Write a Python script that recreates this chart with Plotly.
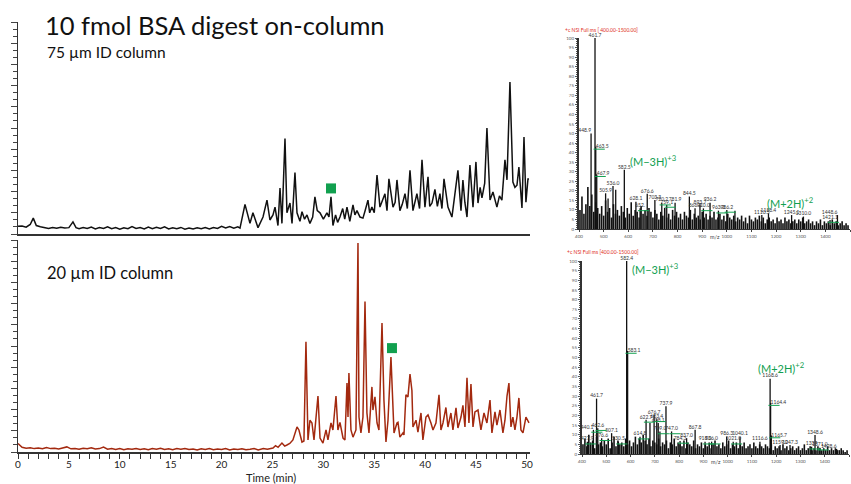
import plotly.graph_objects as go

W, H = 851, 484

# ---------------- Chromatogram data (time in min, relative intensity) ----------------
top_time = [0.0, 0.4, 0.8, 1.2, 1.5, 1.8, 2.2, 2.6, 3.0, 3.4, 3.8, 4.2, 4.6, 5.0, 5.4, 5.7,
            6.0, 6.4, 6.8, 7.2, 7.6, 8.0, 8.4, 8.8, 9.2, 9.6, 10.0, 10.4, 10.8, 11.2, 11.6, 12.0,
            12.4, 12.8, 13.2, 13.6, 14.0, 14.4, 14.8, 15.2, 15.6, 16.0, 16.4, 16.8, 17.2, 17.6,
            18.0, 18.4, 18.8, 19.2, 19.6, 20.0, 20.4, 20.8, 21.2, 21.6,
            21.81, 22.30, 22.79, 23.08, 23.58, 24.07, 24.46, 24.75, 25.05, 25.25,
            25.54, 25.74, 25.93, 26.23, 26.42, 26.72, 26.92, 27.21, 27.41, 27.70,
            27.90, 28.15, 28.39, 28.68, 28.95, 29.17, 29.40, 29.67, 30.00, 30.35,
            30.55, 30.75, 30.94, 31.20, 31.40, 31.63, 31.90, 32.10, 32.32, 32.60,
            32.91, 33.10, 33.30, 33.60, 33.89, 34.10, 34.38, 34.55, 34.77, 35.00,
            35.27, 35.56, 35.80, 36.05, 36.25, 36.44, 36.84, 37.05, 37.23, 37.52,
            37.75, 38.02, 38.25, 38.51, 38.80, 39.00, 39.19, 39.45, 39.69, 39.98,
            40.28, 40.45, 40.67, 40.96, 41.20, 41.45, 41.65, 41.85, 42.24, 42.63,
            42.93, 43.22, 43.52, 43.71, 43.90, 44.11, 44.40, 44.70, 44.99, 45.19,
            45.40, 45.58, 45.85, 46.07, 46.37, 46.66, 47.05, 47.30, 47.54, 47.84,
            48.04, 48.33, 48.62, 48.82, 49.02, 49.21, 49.51, 49.71, 49.90, 50.10,
            50.20]
top_intensity = [3.6, 3.8, 3.2, 4.5, 7.5, 4.0, 3.4, 3.0, 2.6, 3.1, 2.7, 3.2, 2.8, 3.0, 5.7, 3.0,
                 2.5, 3.1, 2.6, 3.3, 2.4, 3.0, 2.6, 3.4, 2.5, 3.0, 2.3, 2.9, 2.5, 3.5, 2.6, 3.0,
                 2.4, 3.3, 2.5, 3.2, 2.6, 3.4, 2.4, 2.9, 2.5, 3.1, 2.3, 2.8, 2.4, 2.9,
                 2.5, 3.0, 2.4, 3.1, 2.6, 3.6, 2.8, 3.5, 2.7, 3.4,
                 2.8, 14, 5, 10, 3, 8, 16, 6.6, 9, 12.7,
                 4, 21.7, 5, 45, 10, 14.6, 5, 29, 10, 6,
                 10.5, 7, 9, 5, 8, 17.5, 11, 10, 7, 10,
                 8, 17.5, 4, 9, 5.5, 8, 12, 7, 12.7, 6,
                 13.7, 9, 11, 8, 7.5, 11, 16, 10, 12.7, 10,
                 27.8, 12.7, 16, 19, 11, 26, 12.7, 15, 25.5, 11,
                 14, 19, 12, 30, 11, 15, 19, 12, 35, 12.7,
                 27, 13, 14.6, 21, 13, 19, 12, 26, 12.7, 8,
                 19, 30, 11, 25.5, 15, 8, 32.5, 12.7, 34, 14.6,
                 22, 17, 24, 50, 16, 19.8, 12.7, 18, 16, 35,
                 25.5, 71.7, 24.5, 22, 23, 31.6, 12.3, 45.8, 15, 26,
                 26]

bottom_time = [0.0, 0.4, 0.8, 1.2, 1.6, 2.0, 2.4, 2.8, 3.2, 3.6,
               4.0, 4.4, 4.8, 5.2, 5.6, 6.0, 6.4, 6.8, 7.2, 7.6,
               8.0, 8.4, 8.8, 9.2, 9.6, 10.0, 10.4, 10.8, 11.2, 11.6,
               12.0, 12.4, 12.8, 13.2, 13.6, 14.0, 14.4, 14.8, 15.2, 15.6,
               16.0, 16.4, 16.8, 17.2, 17.6, 18.0, 18.4, 18.8, 19.2, 19.6,
               20.0, 20.4, 20.8, 21.2, 21.6, 22.0, 22.4, 22.8, 23.2, 23.6,
               24.10, 24.50, 25.05, 25.30, 25.55, 25.93, 26.20, 26.42, 26.70, 27.01,
               27.41, 27.60, 27.90, 28.09, 28.29, 28.49, 28.68, 28.88, 29.08, 29.47,
               29.67, 29.96, 30.26, 30.45, 30.75, 30.94, 31.24, 31.43, 31.63, 31.93,
               32.12, 32.32, 32.42, 32.51, 32.71, 32.91, 33.20, 33.40, 33.50, 33.69,
               33.89, 34.09, 34.28, 34.48, 34.77, 34.87, 35.07, 35.27, 35.46, 35.76,
               35.95, 36.15, 36.35, 36.64, 36.74, 36.94, 37.23, 37.33, 37.52, 37.82,
               37.92, 38.11, 38.31, 38.51, 38.70, 38.80, 39.10, 39.29, 39.59, 39.78,
               40.08, 40.28, 40.57, 40.77, 41.06, 41.36, 41.55, 41.75, 42.04, 42.24,
               42.53, 42.73, 43.03, 43.22, 43.52, 43.71, 43.91, 44.11, 44.30, 44.50,
               44.70, 44.89, 45.19, 45.48, 45.78, 46.07, 46.37, 46.56, 46.86, 47.05,
               47.35, 47.64, 47.84, 48.04, 48.23, 48.43, 48.62, 48.82, 49.02, 49.21,
               49.41, 49.61, 49.90, 50.10, 50.20]
bottom_intensity = [4.0, 2.2, 1.8, 2.0, 1.6, 1.9, 1.5, 2.1, 1.6, 1.8,
                    1.4, 1.9, 2.4, 1.5, 1.7, 1.3, 1.8, 1.5, 2.0, 1.4,
                    1.6, 2.3, 1.3, 1.7, 1.2, 1.6, 1.1, 1.5, 1.3, 1.7,
                    1.2, 1.5, 1.1, 1.6, 1.3, 1.8, 1.2, 1.5, 1.1, 1.6,
                    1.3, 1.7, 1.2, 1.4, 1.0, 1.5, 1.2, 1.6, 1.1, 1.4,
                    1.2, 1.6, 1.0, 1.4, 1.2, 1.5, 1.1, 1.3, 1.6, 1.0,
                    1.6, 1.3, 1.9, 3.0, 2.2, 4.2, 2.8, 3.3, 4.0, 5.7,
                    11.8, 10.4, 4.7, 5.2, 52, 5.7, 15, 13.7, 5.7, 26.4,
                    6.6, 4.2, 10.4, 5.7, 13.7, 10.4, 26.4, 10.4, 14, 6.6,
                    5.7, 32.5, 16.5, 37.3, 10.4, 7, 10.4, 98.6, 16.5, 9,
                    16.5, 71, 18.4, 9, 30.7, 19.8, 26, 13.7, 10.4, 60.8,
                    24.5, 4.7, 15, 44.8, 35, 9, 13.7, 14, 7, 9,
                    8, 27, 26, 36.8, 29, 11.8, 15, 9.4, 18.4, 5.7,
                    16.5, 17.5, 13.7, 10.4, 13.7, 27, 10.4, 13.7, 21, 11.8,
                    18.4, 10.4, 20.8, 11.3, 16.5, 22, 11.8, 35, 13.7, 32,
                    11.8, 18.9, 19.8, 10.4, 18.4, 13.7, 24.5, 9, 18.9, 12.7,
                    19.8, 9, 15, 26.4, 32.5, 11.8, 16.5, 10.4, 16.5, 25.5,
                    10.4, 9, 16.5, 14, 13.7]

# green square markers (time, intensity)
top_marker = ([30.75], [21.5])
bottom_marker = ([36.74], [49])

x_ticks = [0, 5, 10, 15, 20, 25, 30, 35, 40, 45, 50]

# ---------------- Mass spectra data ----------------
top_peak_mz = [449, 465, 468, 472, 508, 518, 538, 549, 584, 631,
               648, 677, 708, 736, 756, 790, 848, 871, 891, 905,
               932, 966, 1000, 1033, 1142, 1169, 1263, 1311, 1419, 1449]
top_peak_int = [50, 100, 43, 28.7, 18.7, 16, 22.5, 20.5, 31, 14.3,
                10.8, 18.4, 15.2, 13.8, 12.6, 13.8, 17, 10.8, 12.6, 10.8,
                13.8, 9.6, 10, 9.6, 7.3, 8.2, 7.3, 6.5, 4.7, 7.3]
top_peak_label = ["448.9", "461.7", "463.5", "467.9", "505.9", "", "536.0", "", "582.5", "628.1",
                  "652.", "676.6", "703.3", "720.2", "759.1", "781.9", "844.5", "866.8", "893.7", "910.0",
                  "936.2", "963.3", "986.2", "", "1110.5", "1188.4", "1245.1", "1310.0", "1421.1", "1448.6"]
top_green = ["463.5", "467.9", "652.", "720.2", "759.1", "910.0", "963.3", "986.2", "1421.1"]

bot_peak_mz = [422, 447, 460, 465, 481, 522, 550, 584, 588, 639,
               664, 680, 697, 708, 714, 721, 746, 769, 804, 831,
               866, 907, 934, 996, 1023, 1051, 1133, 1175, 1177, 1180,
               1216, 1257, 1346, 1360, 1380, 1449]
bot_peak_int = [6.4, 12.5, 28.7, 13.4, 8.2, 10.8, 6.4, 100, 53.4, 9,
                17.7, 16, 20.3, 18, 16, 11.7, 24.7, 11.7, 6.8, 8.2,
                12.5, 6.4, 6.4, 9, 6.4, 9, 6.4, 39, 26.4, 9.6,
                4.7, 4.7, 3.8, 9.9, 3.3, 2.6]
bot_peak_label = ["427.9", "440.1", "461.7", "462.6", "476.6", "507.1", "530.5", "582.4", "583.1", "614.8",
                  "622.7", "", "676.7", "683.4", "698.1", "709.0", "737.9", "747.0", "784.3", "837.0",
                  "867.8", "918.0", "936.0", "986.3", "1021.0", "1040.1", "1116.6", "1168.6", "1164.4", "1165.7",
                  "1159.0", "1247.3", "1339", "1348.6", "1371.0", "1428.6"]
bot_green = ["427.9", "440.1", "462.6", "476.6", "530.5", "583.1", "614.8", "622.7", "683.4",
             "709.0", "747.0", "784.3", "918.0", "936.0", "1021.0", "1164.4", "1165.7", "1339", "1371.0"]

noise_mz_start, noise_mz_step = 404, 8
top_noise = [10, 17, 8, 13, 22, 12, 18, 9, 14, 11,
             8, 12, 7, 15, 9, 11, 6, 13, 8, 10,
             7, 12, 9, 6, 11, 8, 14, 7, 10, 9,
             6, 12, 8, 10, 7, 11, 9, 6, 10, 8,
             5, 9, 7, 11, 6, 8, 5, 10, 7, 9,
             6, 8, 5, 9, 7, 6, 10, 5, 8, 6,
             7, 5, 9, 6, 8, 5, 7, 6, 9, 5,
             6, 8, 5, 7, 4, 8, 6, 5, 7, 4,
             6, 5, 7, 4, 6, 3, 7, 5, 4, 6,
             5, 7, 4, 6, 3, 5, 6, 4, 5, 3,
             6, 4, 5, 3, 6, 4, 5, 3, 4, 5,
             3, 5, 4, 6, 3, 4, 5, 3, 4, 2,
             4, 3, 5, 2, 4, 3, 4, 2, 5, 3,
             4, 2, 3, 4, 2, 3, 2]
bot_noise = [5, 8, 4, 10, 6, 7, 3, 9, 5, 6,
             4, 7, 5, 8, 3, 6, 9, 4, 7, 5,
             6, 4, 8, 5, 7, 4, 6, 9, 5, 8,
             6, 10, 7, 5, 8, 4, 7, 6, 5, 8,
             4, 6, 5, 7, 3, 6, 5, 8, 4, 6,
             5, 4, 7, 3, 6, 5, 4, 7, 3, 5,
             4, 6, 3, 5, 4, 6, 3, 5, 7, 4,
             5, 3, 6, 4, 5, 7, 3, 5, 4, 6,
             3, 5, 4, 6, 3, 4, 5, 3, 6, 4,
             3, 5, 4, 3, 5, 4, 3, 5, 2, 4,
             3, 4, 2, 5, 3, 4, 2, 3, 4, 2,
             3, 4, 2, 3, 5, 2, 3, 4, 2, 3,
             2, 4, 3, 2, 3, 2, 4, 2, 3, 2,
             3, 2, 2, 3, 2, 1, 2]

# ---------------- helpers ----------------
def px_x(p):
    return p / W


def px_y(p):
    return 1 - p / H


def sticks(mz, inten):
    xs, ys = [], []
    for m, i in zip(mz, inten):
        xs += [m, m, None]
        ys += [0, i, None]
    return xs, ys


FONT = "Lato"
GREEN = "#11a04f"
RED_TRACE = "#a3290f"

fig = go.Figure()

# chromatograms
fig.add_trace(go.Scatter(x=top_time, y=top_intensity, mode="lines",
                         line=dict(color="#111111", width=1.5), xaxis="x2", yaxis="y2",
                         showlegend=False, hoverinfo="skip"))
fig.add_trace(go.Scatter(x=bottom_time, y=bottom_intensity, mode="lines",
                         line=dict(color=RED_TRACE, width=1.5), xaxis="x", yaxis="y",
                         showlegend=False, hoverinfo="skip"))
fig.add_trace(go.Scatter(x=top_marker[0], y=top_marker[1], mode="markers",
                         marker=dict(symbol="square", size=10, color=GREEN),
                         xaxis="x2", yaxis="y2", showlegend=False, hoverinfo="skip"))
fig.add_trace(go.Scatter(x=bottom_marker[0], y=bottom_marker[1], mode="markers",
                         marker=dict(symbol="square", size=10, color=GREEN),
                         xaxis="x", yaxis="y", showlegend=False, hoverinfo="skip"))


def add_spectrum(peak_mz, peak_int, labels, green, noise, xa, ya, posmap):
    noise_mz = [noise_mz_start + noise_mz_step * k for k in range(len(noise))]
    nx, ny = sticks(noise_mz, noise)
    fig.add_trace(go.Scatter(x=nx, y=ny, mode="lines", line=dict(color="#111111", width=1.6),
                             xaxis=xa, yaxis=ya, showlegend=False, hoverinfo="skip"))
    px_, py_ = sticks(peak_mz, peak_int)
    fig.add_trace(go.Scatter(x=px_, y=py_, mode="lines", line=dict(color="#111111", width=1.3),
                             xaxis=xa, yaxis=ya, showlegend=False, hoverinfo="skip"))
    sel = [k for k, l in enumerate(labels) if l]
    pos = [posmap.get(labels[k], "top center") for k in sel]
    fig.add_trace(go.Scatter(x=[peak_mz[k] for k in sel], y=[peak_int[k] for k in sel],
                             mode="text", text=[labels[k] for k in sel],
                             textposition=pos, textfont=dict(size=5, color="#333333", family=FONT),
                             xaxis=xa, yaxis=ya, showlegend=False, hoverinfo="skip", cliponaxis=False))
    gx = [m + 14 for m, l in zip(peak_mz, labels) if l in green]
    gy = [i - 1.2 for i, l in zip(peak_int, labels) if l in green]
    fig.add_trace(go.Scatter(x=gx, y=gy, mode="markers",
                             marker=dict(symbol="line-ew", size=8, line=dict(color=GREEN, width=1)),
                             xaxis=xa, yaxis=ya, showlegend=False, hoverinfo="skip", cliponaxis=False))


add_spectrum(top_peak_mz, top_peak_int, top_peak_label, top_green, top_noise, "x3", "y3",
             {"448.9": "top left", "463.5": "middle right", "467.9": "middle right",
              "1448.6": "top left"})
add_spectrum(bot_peak_mz, bot_peak_int, bot_peak_label, bot_green, bot_noise, "x4", "y4",
             {"583.1": "middle right", "1164.4": "middle right", "1165.7": "middle right",
              "440.1": "top left", "1428.6": "top left"})

chrom_x = [px_x(18), px_x(530)]
axis_common = dict(showgrid=False, zeroline=False, showline=True, linecolor="#333333",
                   automargin=False)

fig.update_layout(
    template="none",
    width=W, height=H, autosize=False,
    margin=dict(l=0, r=0, t=0, b=0, pad=0, autoexpand=False),
    paper_bgcolor="white", plot_bgcolor="white",
    font=dict(family=FONT, color="#222222"),
    xaxis=dict(domain=chrom_x, range=[0, 50.3], anchor="y", tickvals=x_ticks,
               ticks="outside", ticklen=5, tickwidth=1, tickcolor="#333333",
               minor=dict(dtick=1, ticks="outside", ticklen=5, tickcolor="#333333"),
               tickfont=dict(size=10, color="#222222", family=FONT), linewidth=1.5,
               ticklabelstandoff=-3, **axis_common),
    yaxis=dict(domain=[px_y(452), px_y(240)], range=[0, 100], anchor="x",
               showticklabels=False, ticks="outside", dtick=10, ticklen=6, tickcolor="#444444",
               minor=dict(dtick=10 / 3, ticks="outside", ticklen=4, tickcolor="#444444"),
               linewidth=1, **axis_common),
    xaxis2=dict(domain=chrom_x, range=[0, 50.3], anchor="y2", showticklabels=False,
                ticks="", linewidth=2, **axis_common),
    yaxis2=dict(domain=[px_y(234), px_y(22)], range=[0, 100], anchor="x2",
                showticklabels=False, ticks="outside", dtick=10, ticklen=6, tickcolor="#444444",
                minor=dict(dtick=10 / 3, ticks="outside", ticklen=4, tickcolor="#444444"),
                linewidth=1, **axis_common),
    xaxis3=dict(domain=[px_x(579), px_x(850)], range=[400, 1500], anchor="y3", dtick=100,
                ticks="outside", ticklen=2, tickcolor="#444444",
                tickfont=dict(size=4.5, color="#555555"), linewidth=1.2, **axis_common),
    yaxis3=dict(domain=[px_y(229), px_y(38)], range=[0, 100], anchor="x3", dtick=5,
                ticks="outside", ticklen=2, tickcolor="#555555",
                minor=dict(dtick=1, ticks="outside", ticklen=1.5, tickcolor="#555555"),
                tickfont=dict(size=4.5, color="#555555"), linewidth=2, **axis_common),
    xaxis4=dict(domain=[px_x(582), px_x(849)], range=[400, 1500], anchor="y4", dtick=100,
                ticks="outside", ticklen=2, tickcolor="#444444",
                tickfont=dict(size=4.5, color="#555555"), linewidth=1.2, **axis_common),
    yaxis4=dict(domain=[px_y(454), px_y(261)], range=[0, 100], anchor="x4", dtick=5,
                ticks="outside", ticklen=2, tickcolor="#555555",
                minor=dict(dtick=1, ticks="outside", ticklen=1.5, tickcolor="#555555"),
                tickfont=dict(size=4.5, color="#555555"), linewidth=2, **axis_common),
)

ann = []


def paper_text(x, y, text, size, color="#111111", xanchor="left", yanchor="middle"):
    ann.append(dict(x=px_x(x), y=px_y(y), xref="paper", yref="paper", text=text, showarrow=False,
                    xanchor=xanchor, yanchor=yanchor, font=dict(size=size, color=color, family=FONT)))


paper_text(43, 25, "10 fmol BSA digest on-column", 25.5)
paper_text(45, 52, "75 µm ID column", 15.5)
paper_text(45, 273, "20 µm ID column", 16.5)
paper_text(271, 477, "Time (min)", 11, "#222222", "center")
paper_text(563, 30, "+c NSI Full ms [ 400.00-1500.00]", 5, "#e0301e")
paper_text(565, 252, "+c NSI Full ms [400.00-1500.00]", 5, "#e0301e")
paper_text(715, 237, "m/z", 5.5, "#444444", "center")
paper_text(716, 462, "m/z", 5.5, "#444444", "center")

# ion annotations on spectra (data coordinates)
ann.append(dict(x=600, y=36, xref="x3", yref="y3", text="(M−3H)<sup>+3</sup>", showarrow=False,
                xanchor="left", yanchor="middle", font=dict(size=11, color=GREEN, family=FONT)))
ann.append(dict(x=1155, y=14, xref="x3", yref="y3", text="(M+2H)<sup>+2</sup>", showarrow=False,
                xanchor="left", yanchor="middle", font=dict(size=11, color=GREEN, family=FONT)))
ann.append(dict(x=597, y=96, xref="x4", yref="y4", text="(M−3H)<sup>+3</sup>", showarrow=False,
                xanchor="left", yanchor="middle", font=dict(size=11, color=GREEN, family=FONT)))
ann.append(dict(x=1118, y=45, xref="x4", yref="y4", text="(M+2H)<sup>+2</sup>", showarrow=False,
                xanchor="left", yanchor="middle", font=dict(size=11, color=GREEN, family=FONT)))

fig.update_layout(annotations=ann)

fig.write_html("out.html", config={"displayModeBar": False},
               post_script="document.body.style.margin='0';document.body.style.padding='0';")
